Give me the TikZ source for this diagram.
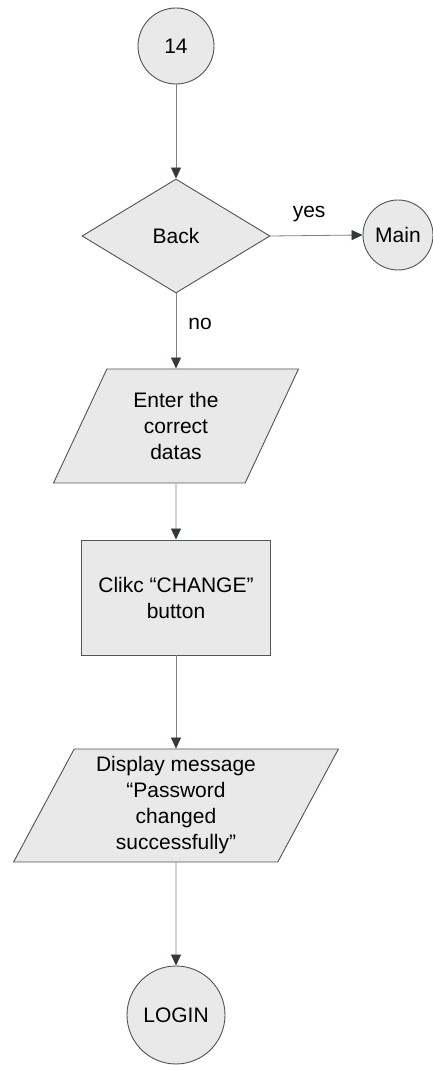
\documentclass[tikz,border=0pt]{standalone}
\usepackage{fontspec}
\setmainfont{Liberation Sans}
\usetikzlibrary{arrows.meta,shapes.geometric}
\begin{document}
\begin{tikzpicture}[x=1pt,y=1pt,line width=0.4pt]
\definecolor{boxfill}{RGB}{233,233,233}
\definecolor{boxline}{RGB}{80,84,84}
\definecolor{lineg}{RGB}{128,128,128}
\definecolor{tipdark}{RGB}{50,58,58}
\providecommand{\ftxt}{\fontsize{21}{26}\selectfont}
\tikzset{shp/.style={draw=boxline,fill=boxfill,line width=0.9pt,inner sep=0pt,font=\ftxt,align=center},term/.style={shp,circle},decis/.style={shp,diamond},inout/.style={shp,trapezium,trapezium left angle=64,trapezium right angle=116,trapezium stretches=true},proc/.style={shp,rectangle},flow/.style={-{Triangle[length=11pt,width=10pt,color=tipdark]},draw=lineg,line width=0.8pt},lbl/.style={inner sep=0pt,font=\ftxt}}
\useasboundingbox (0,0) rectangle (433,1066);
\node[term,minimum size=76pt] (start) at (176,1020) {14};
\node[decis,minimum width=188pt,minimum height=114pt] (back) at (176,830) {Back};
\node[term,minimum size=70pt] (main) at (398,831) {Main};
\node[inout,minimum width=245pt,minimum height=114pt] (enter) at (176,640) {Enter the\\correct\\datas};
\node[proc,minimum width=189pt,minimum height=115pt] (change) at (176,468.5) {Clikc “CHANGE”\\button};
\node[inout,minimum width=326pt,minimum height=113pt] (disp) at (176,260.5) {Display message\\“Password\\changed\\successfully”};
\node[term,minimum size=98pt] (login) at (176,51) {LOGIN};
\draw[flow] (start) -- (back);
\draw[flow] (back.east) -- (main.west) node[lbl,pos=0.42,above=13pt] (yes) {yes};
\draw[flow] (back) -- (enter) node[lbl,pos=0.4,right=12pt] (no) {no};
\draw[flow] (enter) -- (change);
\draw[flow] (change) -- (disp);
\draw[flow] (disp) -- (login);
\end{tikzpicture}
\end{document}
